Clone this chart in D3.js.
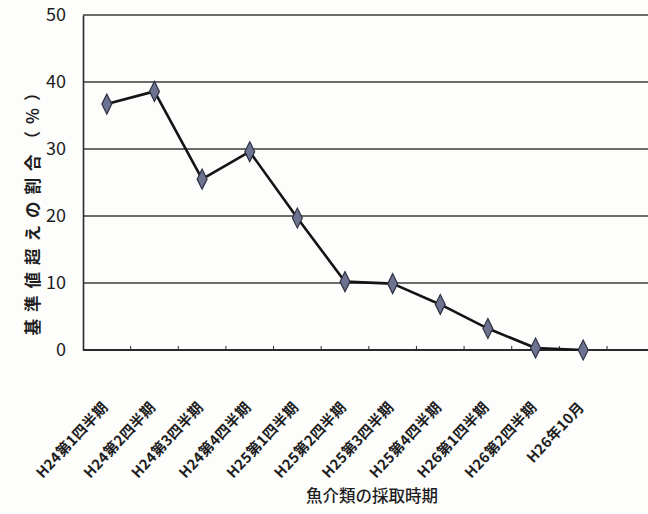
<!DOCTYPE html>
<html>
<head>
<meta charset="utf-8">
<script src="https://cdn.jsdelivr.net/npm/d3@7"></script>
<style>
  html, body { margin: 0; padding: 0; background: #fdfdfc; }
  svg { display: block; }
  text { fill: #1e1e1e; }
</style>
</head>
<body>
<script>
// Sampling periods and share of samples above the standard value (%)
const periods = [
  "H24第1四半期", "H24第2四半期", "H24第3四半期", "H24第4四半期",
  "H25第1四半期", "H25第2四半期", "H25第3四半期", "H25第4四半期",
  "H26第1四半期", "H26第2四半期", "H26年10月"
];
const ratios = [36.7, 38.6, 25.5, 29.6, 19.7, 10.2, 9.9, 6.8, 3.2, 0.3, 0];
const yTicks = [0, 10, 20, 30, 40, 50];
const yTitle = "基準値超えの割合（%）";
const xTitle = "魚介類の採取時期";

const W = 648, H = 514;
const plot = { left: 83, right: 607, top: 15, bottom: 350 };
const latinFont = "'Liberation Sans Narrow', 'Noto Sans CJK JP', sans-serif";

const svg = d3.select("body").append("svg")
  .attr("width", W).attr("height", H);

const x = d3.scaleBand().domain(periods).range([plot.left, plot.right]);
const y = d3.scaleLinear().domain([0, 50]).range([plot.bottom, plot.top]);

// horizontal gridlines run across to the page edge
svg.append("g").selectAll("line")
  .data(yTicks.filter(d => d > 0))
  .join("line")
  .attr("x1", plot.left).attr("x2", W)
  .attr("y1", d => y(d)).attr("y2", d => y(d))
  .attr("stroke", "#3a3a3a").attr("stroke-width", 1.3);

// value axis
const yAxis = svg.append("g")
  .attr("transform", `translate(${plot.left},0)`)
  .call(d3.axisLeft(y).tickValues(yTicks).tickSize(0).tickPadding(17));
yAxis.select(".domain").attr("stroke", "#2a2a2a").attr("stroke-width", 1.6);
yAxis.selectAll("text")
  .attr("font-family", latinFont).attr("font-size", 18)
  .attr("fill", "#1e1e1e");

// category axis: baseline with small inward ticks at band boundaries
svg.append("line")
  .attr("x1", plot.left).attr("x2", W)
  .attr("y1", plot.bottom).attr("y2", plot.bottom)
  .attr("stroke", "#2a2a2a").attr("stroke-width", 2);
const bounds = periods.map(p => x(p) + x.bandwidth());
svg.append("g").selectAll("line")
  .data(bounds)
  .join("line")
  .attr("x1", d => d).attr("x2", d => d)
  .attr("y1", plot.bottom).attr("y2", plot.bottom - 4)
  .attr("stroke", "#2a2a2a").attr("stroke-width", 1);

// rotated category labels
svg.append("g").selectAll("text")
  .data(periods)
  .join("text")
  .attr("transform", d => `translate(${x(d) + x.bandwidth() / 2 + 2},408) rotate(-47)`)
  .attr("text-anchor", "end")
  .attr("font-family", latinFont)
  .attr("font-size", 14.5)
  .attr("font-weight", "bold")
  .attr("letter-spacing", 0.3)
  .text(d => d);

// series line
const cx = d => x(d) + x.bandwidth() / 2;
svg.append("path")
  .datum(periods.map((p, i) => [cx(p), y(ratios[i])]))
  .attr("d", d3.line())
  .attr("fill", "none")
  .attr("stroke", "#141414")
  .attr("stroke-width", 2.6)
  .attr("stroke-linejoin", "round");

// diamond markers
const diamond = d3.symbol().type(d3.symbolDiamond).size(95);
svg.append("g").selectAll("path")
  .data(periods)
  .join("path")
  .attr("d", diamond)
  .attr("transform", (d, i) => `translate(${cx(d)},${y(ratios[i])}) scale(0.95,1.1)`)
  .attr("fill", "#6c7390")
  .attr("stroke", "#2e3040")
  .attr("stroke-width", 1.2);

// axis titles
svg.append("text")
  .attr("transform", `translate(39,${(plot.top + plot.bottom) / 2 + 24}) rotate(-90)`)
  .attr("text-anchor", "middle")
  .attr("font-family", "'Noto Sans CJK JP', sans-serif")
  .attr("font-size", 16.5)
  .attr("font-weight", "bold")
  .attr("letter-spacing", 7)
  .text(yTitle);

svg.append("text")
  .attr("x", 372).attr("y", 502)
  .attr("text-anchor", "middle")
  .attr("font-family", "'Noto Sans CJK JP', sans-serif")
  .attr("font-size", 16.5)
  .attr("font-weight", 500)
  .text(xTitle);
</script>
</body>
</html>
